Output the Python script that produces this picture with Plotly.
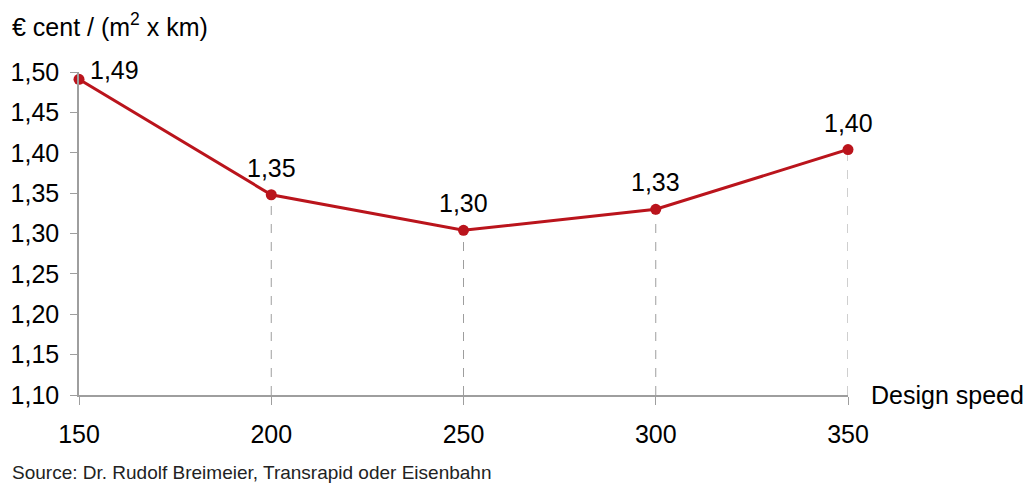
import plotly.graph_objects as go

speeds = [150, 200, 250, 300, 350]
costs = [1.491, 1.348, 1.304, 1.330, 1.404]
labels = ["1,49", "1,35", "1,30", "1,33", "1,40"]
y_ticks = [1.10, 1.15, 1.20, 1.25, 1.30, 1.35, 1.40, 1.45, 1.50]
y_tick_text = ["1,10", "1,15", "1,20", "1,25", "1,30", "1,35", "1,40", "1,45", "1,50"]

RED = "#BA141C"
GRAY = "#9E9E9E"
FONT = "Liberation Sans, Arial, sans-serif"
FS = 25

fig = go.Figure()

# dashed drop lines
for x, y in zip(speeds[1:], costs[1:]):
    fig.add_shape(type="line", x0=x, x1=x, y0=y_ticks[0], y1=y,
                  xref="x", yref="y",
                  line=dict(color=GRAY, width=1, dash="dash"), layer="below")

fig.add_trace(go.Scatter(
    x=speeds, y=costs, mode="lines+markers",
    line=dict(color=RED, width=3),
    marker=dict(color=RED, size=11),
    cliponaxis=False, showlegend=False,
))

annotations = []
for i, (x, y, t) in enumerate(zip(speeds, costs, labels)):
    if i == 0:
        annotations.append(dict(x=x, y=y, xref="x", yref="y", text=t,
                                showarrow=False, xanchor="center", yanchor="middle",
                                xshift=35, yshift=9, font=dict(size=FS)))
    else:
        annotations.append(dict(x=x, y=y, xref="x", yref="y", text=t,
                                showarrow=False, xanchor="center", yanchor="middle",
                                yshift=27, font=dict(size=FS)))

annotations += [
    dict(text="€ cent / (m<sup>2</sup> x km)", xref="paper", yref="paper",
         x=-79/769, y=1, xanchor="left", yanchor="middle", xshift=10,
         yshift=47, showarrow=False, font=dict(size=FS)),
    dict(text="Design speed", xref="paper", yref="y", x=1, y=y_ticks[0],
         xanchor="left", yanchor="middle", xshift=21, showarrow=False,
         font=dict(size=FS)),
    dict(text="Source: Dr. Rudolf Breimeier, Transrapid oder Eisenbahn",
         xref="paper", yref="paper", x=-79/769, y=0, xanchor="left",
         yanchor="middle", xshift=10, yshift=-77, showarrow=False,
         font=dict(size=19, color="#222222")),
]

fig.update_layout(
    width=1030, height=485,
    margin=dict(l=79, r=182, t=72, b=90),
    paper_bgcolor="white", plot_bgcolor="white",
    font=dict(family=FONT, size=FS, color="#000000"),
    xaxis=dict(range=[speeds[0], speeds[-1]], tickvals=speeds,
               ticktext=[str(s) for s in speeds],
               showgrid=False, zeroline=False, showline=True,
               linecolor=GRAY, linewidth=1.5, ticks="outside",
               ticklen=8, tickcolor=GRAY, ticklabelstandoff=8),
    yaxis=dict(range=[y_ticks[0], y_ticks[-1]], tickvals=y_ticks,
               ticktext=y_tick_text, showgrid=False, zeroline=False,
               showline=True, linecolor=GRAY, linewidth=1.5,
               ticks="outside", ticklen=7, tickcolor=GRAY,
               ticklabelstandoff=6),
    annotations=annotations,
)

fig.write_html("out.html")
